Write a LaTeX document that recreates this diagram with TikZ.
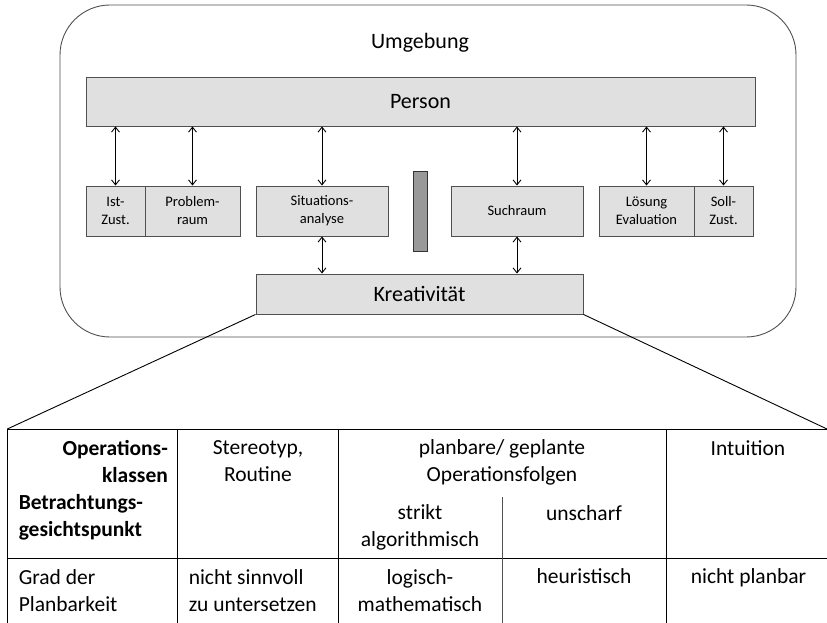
\documentclass[tikz,border=0pt]{standalone}
\usepackage{fontspec}
\setmainfont{Carlito}
\usetikzlibrary{arrows.meta}
\definecolor{boxgray}{HTML}{E0E0E0}
\definecolor{bargray}{HTML}{999999}
\definecolor{edgegray}{HTML}{505050}

\tikzset{
	box/.style={draw=edgegray,fill=boxgray,inner sep=0pt,align=center,font=\fontsize{14.5}{18}\selectfont},
	bigbox/.style={box,font=\fontsize{22}{27}\selectfont},
	link/.style={{Straight Barb[length=5pt,width=8pt]}-{Straight Barb[length=5pt,width=8pt]}},
	cell/.style={inner sep=0pt,font=\fontsize{21.5}{27}\selectfont},
}

\begin{document}
\begin{tikzpicture}[x=1pt,y=-1pt,line width=0.9pt]
			\useasboundingbox (0,0) rectangle (827,623);
			\draw[edgegray,rounded corners=50pt] (60,5) rectangle (796,337);
			\node[anchor=base,font=\fontsize{22}{27}\selectfont] (umg) at (420,48.5) {Umgebung};
			\node[bigbox,minimum width=669pt,minimum height=49pt] (person) at (420.5,101.5) {Person};
			\node[box,minimum width=59pt,minimum height=50pt] (ist) at (115.5,211) {Ist-\\Zust.};
			\node[box,minimum width=95pt,minimum height=50pt] (problem) at (192.5,211) {Problem-\\raum};
			\node[box,minimum width=132pt,minimum height=50pt] (situ) at (322,211) {Situations-\\analyse};
			\node[draw=black!80,fill=bargray,minimum width=14pt,minimum height=80pt,inner sep=0pt] (bar) at (420,211) {};
			\node[box,minimum width=132pt,minimum height=50pt] (such) at (517,211) {Suchraum};
			\node[box,minimum width=95pt,minimum height=50pt] (loesung) at (646.5,211) {Lösung\\Evaluation};
			\node[box,minimum width=59pt,minimum height=50pt] (soll) at (723.5,211) {Soll-\\Zust.};
			\node[bigbox,minimum width=327pt,minimum height=40pt] (krea) at (419.5,294) {Kreativität};
			\foreach \Box in {ist,problem,situ,such,loesung,soll}
				\draw[link] (person.south -| \Box.north) -- (\Box.north);
			\foreach \Box in {situ,such}
				\draw[link] (\Box.south) -- (\Box.south |- krea.north);
			\coordinate (tl) at (7.3,429);
			\coordinate (tr) at (827,429);
			\draw (krea.south west) -- (tl);
			\draw (krea.south east) -- (tr);
			\draw (7.3,623) -- (tl) -- (tr);
			\draw (7.3,558.3) -- (827,558.3);
			\draw (177.5,429) -- (177.5,623);
			\draw (338.3,429) -- (338.3,623);
			\draw (666.7,429) -- (666.7,623);
			\draw[edgegray] (502,497) -- (502,623);
			\node[cell,anchor=base east,align=right,font=\fontsize{21.5}{27}\bfseries] (opk) at (168.3,482.7) {Operations-\\klassen};
			\node[cell,anchor=base west,align=left,font=\fontsize{21.5}{27}\bfseries] (betr) at (18.3,536) {Betrachtungs-\\gesichtspunkt};
			\node[cell,anchor=base,align=center] (stereo) at (258,481.5) {Stereotyp,\\Routine};
			\node[cell,anchor=base,align=center] (planbar) at (502,481.5) {planbare/ geplante\\Operationsfolgen};
			\node[cell,anchor=base,align=center] (intu) at (748,455.5) {Intuition};
			\node[cell,anchor=base,align=center] (strikt) at (420,546.5) {strikt\\algorithmisch};
			\node[cell,anchor=base,align=center] (unscharf) at (584,520) {unscharf};
			\node[cell,anchor=base west,align=left] (grad) at (18.3,611) {Grad der\\Planbarkeit};
			\node[cell,anchor=base west,align=left] (sinn) at (188.3,611) {nicht sinnvoll\\zu untersetzen};
			\node[cell,anchor=base,align=center] (logisch) at (420,611) {logisch-\\mathematisch};
			\node[cell,anchor=base,align=center] (heur) at (584,583.5) {heuristisch};
			\node[cell,anchor=base,align=center] (nplan) at (748.5,583.5) {nicht planbar};
		\end{tikzpicture}
\end{document}
